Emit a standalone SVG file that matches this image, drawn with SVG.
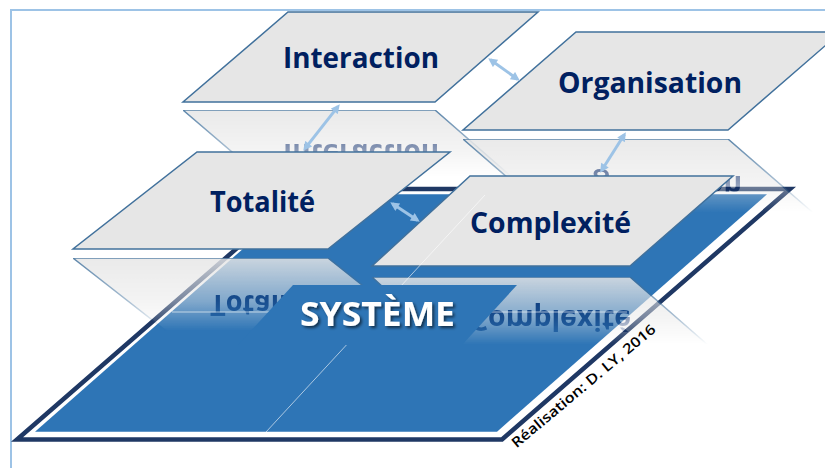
<svg xmlns="http://www.w3.org/2000/svg" width="825" height="468" viewBox="0 0 825 468">
  <defs>
    <style>
      .plate { fill: #E6E6E6; stroke: #41719C; stroke-width: 1.5; stroke-linejoin: miter; }
      .label { font-family: "Open Sans", "Liberation Sans", sans-serif; font-weight: 700; font-size: 29px; fill: #002060; text-anchor: middle; }
      .arrow { stroke: #9DC3E6; stroke-width: 3; fill: none; marker-start: url(#ah); marker-end: url(#ah); }
      .faint { stroke: #FFFFFF; stroke-opacity: 0.6; stroke-width: 1; fill: none; }
    </style>
    <marker id="ah" viewBox="0 0 10 10" refX="7" refY="5" markerWidth="10" markerHeight="9" markerUnits="userSpaceOnUse" orient="auto-start-reverse">
      <path d="M0,0 L10,5 L0,10 z" fill="#9DC3E6"/>
    </marker>
    <linearGradient id="fadeGrad" x1="0" y1="0" x2="0" y2="1">
      <stop offset="0" stop-color="#FFFFFF" stop-opacity="0.85"/>
      <stop offset="0.45" stop-color="#FFFFFF" stop-opacity="0.45"/>
      <stop offset="0.75" stop-color="#FFFFFF" stop-opacity="0"/>
      <stop offset="1" stop-color="#FFFFFF" stop-opacity="0"/>
    </linearGradient>
    <mask id="fade" maskContentUnits="objectBoundingBox">
      <rect x="0" y="0" width="1" height="1" fill="url(#fadeGrad)"/>
    </mask>
    <filter id="shadow" x="-10%" y="-20%" width="130%" height="160%">
      <feDropShadow dx="2" dy="2" stdDeviation="1.5" flood-color="#000000" flood-opacity="0.6"/>
    </filter>
  </defs>

  <!-- frame -->
  <rect x="11" y="10" width="830" height="470" fill="none" stroke="#9DC3E6" stroke-width="2"/>

  <!-- system plane -->
  <g id="systeme-plane">
    <polygon points="17,439.5 502,439.5 790,189 305,189" fill="#FFFFFF" stroke="#1F3864" stroke-width="4.5"/>
    <polygon points="35,431.7 497,431.7 767,194.3 305,194.3" fill="#2E75B6"/>
  </g>

  <!-- reflections of upper plates -->
  <g id="interaction-reflection" mask="url(#fade)">
    <g transform="translate(0,212) scale(1,-1)">
      <polygon class="plate" points="288,12 538,12 435,102 183,102"/>
      <text class="label" x="361" y="68" textLength="156" lengthAdjust="spacingAndGlyphs">Interaction</text>
    </g>
  </g>
  <g id="organisation-reflection" mask="url(#fade)">
    <g transform="translate(0,269) scale(1,-1)">
      <polygon class="plate" points="576,32 841,32 728,130 463,130"/>
      <text class="label" x="650" y="93" textLength="184" lengthAdjust="spacingAndGlyphs">Organisation</text>
    </g>
  </g>

  <!-- upper plates -->
  <g id="interaction">
    <polygon class="plate" points="288,12 538,12 435,102 183,102"/>
    <text class="label" x="361" y="68" textLength="156" lengthAdjust="spacingAndGlyphs">Interaction</text>
  </g>
  <g id="organisation">
    <polygon class="plate" points="576,32 841,32 728,130 463,130"/>
    <text class="label" x="650" y="93" textLength="184" lengthAdjust="spacingAndGlyphs">Organisation</text>
  </g>

  <!-- reflections of lower plates -->
  <g id="totalite-reflection" mask="url(#fade)">
    <g transform="translate(0,507) scale(1,-1)">
      <polygon class="plate" points="197,152 450,152 328,249 73,249"/>
      <text class="label" x="262.5" y="212" textLength="105" lengthAdjust="spacingAndGlyphs">Totalité</text>
    </g>
  </g>
  <g id="complexite-reflection" mask="url(#fade)">
    <g transform="translate(0,543) scale(1,-1)">
      <polygon class="plate" points="470,176 733,176 630,266 372,266"/>
      <text class="label" x="550.5" y="233" textLength="161" lengthAdjust="spacingAndGlyphs">Complexité</text>
    </g>
  </g>

  <!-- lower plates -->
  <g id="totalite">
    <polygon class="plate" points="197,152 450,152 328,249 73,249"/>
    <text class="label" x="262.5" y="212" textLength="105" lengthAdjust="spacingAndGlyphs">Totalité</text>
  </g>
  <g id="complexite">
    <polygon class="plate" points="470,176 733,176 630,266 372,266"/>
    <text class="label" x="550.5" y="233" textLength="161" lengthAdjust="spacingAndGlyphs">Complexité</text>
  </g>

  <!-- faint decorative lines -->
  <g id="decor">
    <line class="faint" x1="485" y1="195" x2="266" y2="432"/>
    <line class="faint" x1="172" y1="312" x2="273" y2="312"/>
    <line class="faint" x1="490" y1="312" x2="627" y2="312"/>
  </g>

  <!-- SYSTÈME label -->
  <g id="systeme">
    <polygon points="293,285 517,285 462,345 238,345" fill="#2E75B6"/>
    <text x="377.5" y="326" font-family="'Open Sans', 'Liberation Sans', sans-serif" font-weight="700" font-size="34" fill="#FFFFFF" text-anchor="middle" textLength="155" lengthAdjust="spacingAndGlyphs" filter="url(#shadow)">SYSTÈME</text>
  </g>

  <!-- connectors -->
  <g id="connectors">
    <line class="arrow" x1="490.4" y1="59.8" x2="517.6" y2="79.2"/>
    <line class="arrow" x1="338.1" y1="106.4" x2="304.9" y2="148.6"/>
    <line class="arrow" x1="624.4" y1="134.5" x2="601.6" y2="170.5"/>
    <line class="arrow" x1="392.5" y1="203.7" x2="417.5" y2="220.3"/>
  </g>

  <!-- credit -->
  <text x="516.5" y="448.5" transform="rotate(-40 516.5 448.5)" font-family="'Open Sans', 'Liberation Sans', sans-serif" font-weight="600" font-size="14" fill="#000000" textLength="183" lengthAdjust="spacingAndGlyphs">Réalisation: D. LY, 2016</text>
</svg>
